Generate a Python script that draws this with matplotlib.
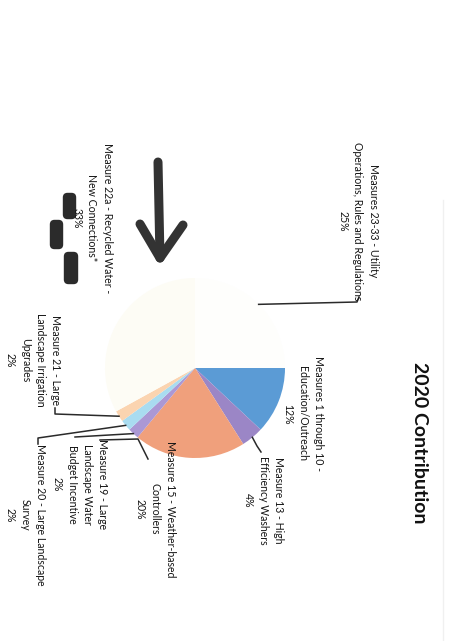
import numpy as np
import matplotlib.pyplot as plt
from matplotlib.patches import FancyBboxPatch

plt.rcParams['font.family'] = ['Lato', 'DejaVu Sans']

# slices, clockwise from the right (page is scanned turned 90 degrees)
labels = ['Measures 1 through 10 -\nEducation/Outreach\n12%',
          'Measure 13 - High\nEfficiency Washers\n4%',
          'Measure 15 - Weather-based\nControllers\n20%',
          'Measure 19 - Large\nLandscape Water\nBudget Incentive\n2%',
          'Measure 20 - Large Landscape\nSurvey\n2%',
          'Measure 21 - Large\nLandscape Irrigation\nUpgrades\n2%',
          'Measure 22a - Recycled Water -\nNew Connections*\n33%',
          'Measures 23-33 - Utility\nOperations, Rules and Regulations\n25%']
values = [12, 4, 20, 2, 2, 2, 33, 25]
colors = ['#5b9bd5', '#9b86c6', '#f0a07c', '#ab98d4', '#a9dcf0', '#fbd4b0',
          '#fdfcf5', '#fefefc']
title = '2020 Contribution'

# label centres in pixel coords of the page
label_pos = [(303, 414), (263, 500), (155, 509), (80, 484), (25, 515),
             (33, 360), (92, 218), (358, 221)]

fig = plt.figure(figsize=(4.57, 6.41), dpi=100)
ax = fig.add_axes([0, 0, 1, 1])
cx, cy, r = 195, 368, 90
wedges, _ = ax.pie(values, colors=colors, startangle=0, counterclock=True,
                   center=(cx, cy), radius=r, wedgeprops=dict(linewidth=0))
ax.set_xlim(0, 457)
ax.set_ylim(641, 0)
ax.set_aspect('equal')
ax.axis('off')


def mid(w):
    a = np.deg2rad((w.theta1 + w.theta2) / 2)
    return (cx + r * np.cos(a), cy + r * np.sin(a))


txt = dict(rotation=-90, rotation_mode='anchor', ha='center', va='center',
           multialignment='center', fontsize=7.6, color='#141414', linespacing=1.45)
for lab, (x, y) in zip(labels, label_pos):
    ax.text(x, y, lab, **txt)

# leader lines
leaders = [
    (7, [(357, 302), (359, 297)]),
    (1, [(257, 446), (261, 452)]),
    (3, [(75, 437)]),
    (4, [(38, 438), (38, 444)]),
    (5, [(55, 414), (55, 408)]),
]
for i, pts in leaders:
    p = [mid(wedges[i])] + pts
    ax.plot([q[0] for q in p], [q[1] for q in p], color='#2a2a2a', lw=1.1)
ax.plot([100, 138, 148], [440, 439, 459], color='#2a2a2a', lw=1.1)

ax.text(420, 443, title, rotation=-90, rotation_mode='anchor', ha='center',
        va='center', fontsize=14, fontweight='bold', color='#111111')

# hand-drawn arrow and redaction marks on the scan
ax.plot([158, 160], [162, 258], color='#333333', lw=6.5, solid_capstyle='round')
ax.plot([140, 160, 183], [224, 258, 225], color='#333333', lw=6.5,
        solid_capstyle='round', solid_joinstyle='round')
for x0, y0, w, h in [(65, 195, 9, 22), (52, 222, 9, 25), (66, 254, 10, 28)]:
    ax.add_patch(FancyBboxPatch((x0, y0), w, h, boxstyle='round,pad=1.5,rounding_size=4',
                                color='#2b2b2b'))

ax.plot([443, 443], [200, 641], color='#f0f0f0', lw=1)

fig.savefig('out.png', dpi=100)
